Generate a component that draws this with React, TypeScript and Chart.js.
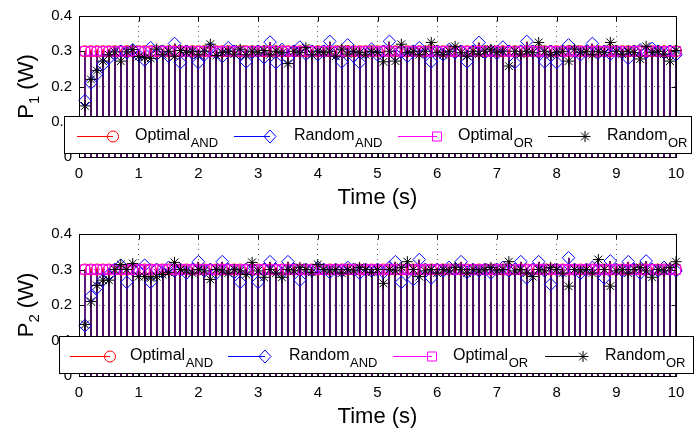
import React, { useEffect, useRef } from 'react';
import { Chart, registerables } from 'chart.js';

Chart.register(...registerables);

// ---------------- data ----------------
const TIME = [
  0.1, 0.2, 0.3, 0.4, 0.5, 0.6, 0.7, 0.8, 0.9, 1.0,
  1.1, 1.2, 1.3, 1.4, 1.5, 1.6, 1.7, 1.8, 1.9, 2.0,
  2.1, 2.2, 2.3, 2.4, 2.5, 2.6, 2.7, 2.8, 2.9, 3.0,
  3.1, 3.2, 3.3, 3.4, 3.5, 3.6, 3.7, 3.8, 3.9, 4.0,
  4.1, 4.2, 4.3, 4.4, 4.5, 4.6, 4.7, 4.8, 4.9, 5.0,
  5.1, 5.2, 5.3, 5.4, 5.5, 5.6, 5.7, 5.8, 5.9, 6.0,
  6.1, 6.2, 6.3, 6.4, 6.5, 6.6, 6.7, 6.8, 6.9, 7.0,
  7.1, 7.2, 7.3, 7.4, 7.5, 7.6, 7.7, 7.8, 7.9, 8.0,
  8.1, 8.2, 8.3, 8.4, 8.5, 8.6, 8.7, 8.8, 8.9, 9.0,
  9.1, 9.2, 9.3, 9.4, 9.5, 9.6, 9.7, 9.8, 9.9, 10.0,
];

const X_TICKS = [0, 1, 2, 3, 4, 5, 6, 7, 8, 9, 10];
const Y_TICKS = [0, 0.1, 0.2, 0.3, 0.4];

const P1_OPTIMAL_AND = [
  0.3, 0.3, 0.3, 0.3, 0.3, 0.3, 0.3, 0.3, 0.3, 0.3,
  0.3, 0.3, 0.3, 0.3, 0.3, 0.3, 0.3, 0.3, 0.3, 0.3,
  0.3, 0.3, 0.3, 0.3, 0.3, 0.3, 0.3, 0.3, 0.3, 0.3,
  0.3, 0.3, 0.3, 0.3, 0.3, 0.3, 0.3, 0.3, 0.3, 0.3,
  0.3, 0.3, 0.3, 0.3, 0.3, 0.3, 0.3, 0.3, 0.3, 0.3,
  0.3, 0.3, 0.3, 0.3, 0.3, 0.3, 0.3, 0.3, 0.3, 0.3,
  0.3, 0.3, 0.3, 0.3, 0.3, 0.3, 0.3, 0.3, 0.3, 0.3,
  0.3, 0.3, 0.3, 0.3, 0.3, 0.3, 0.3, 0.3, 0.3, 0.3,
  0.3, 0.3, 0.3, 0.3, 0.3, 0.3, 0.3, 0.3, 0.3, 0.3,
  0.3, 0.3, 0.3, 0.3, 0.3, 0.3, 0.3, 0.3, 0.3, 0.3,
];
const P1_RANDOM_AND = [
  0.160, 0.210, 0.235, 0.262, 0.280, 0.292, 0.300, 0.296, 0.304, 0.288,
  0.275, 0.310, 0.292, 0.300, 0.286, 0.322, 0.268, 0.300, 0.294, 0.268,
  0.290, 0.308, 0.296, 0.285, 0.310, 0.300, 0.292, 0.270, 0.296, 0.300,
  0.282, 0.326, 0.268, 0.305, 0.280, 0.300, 0.312, 0.292, 0.300, 0.290,
  0.300, 0.328, 0.294, 0.270, 0.318, 0.286, 0.268, 0.296, 0.306, 0.290,
  0.300, 0.328, 0.290, 0.300, 0.286, 0.300, 0.310, 0.296, 0.270, 0.300,
  0.290, 0.305, 0.296, 0.300, 0.270, 0.300, 0.325, 0.296, 0.300, 0.294,
  0.312, 0.300, 0.268, 0.300, 0.328, 0.300, 0.296, 0.270, 0.300, 0.268,
  0.300, 0.318, 0.300, 0.290, 0.300, 0.322, 0.296, 0.300, 0.292, 0.300,
  0.296, 0.280, 0.300, 0.304, 0.296, 0.308, 0.300, 0.296, 0.300, 0.290,
];
const P1_OPTIMAL_OR = [
  0.3, 0.3, 0.3, 0.3, 0.3, 0.3, 0.3, 0.3, 0.3, 0.3,
  0.3, 0.3, 0.3, 0.3, 0.3, 0.3, 0.3, 0.3, 0.3, 0.3,
  0.3, 0.3, 0.3, 0.3, 0.3, 0.3, 0.3, 0.3, 0.3, 0.3,
  0.3, 0.3, 0.3, 0.3, 0.3, 0.3, 0.3, 0.3, 0.3, 0.3,
  0.3, 0.3, 0.3, 0.3, 0.3, 0.3, 0.3, 0.3, 0.3, 0.3,
  0.3, 0.3, 0.3, 0.3, 0.3, 0.3, 0.3, 0.3, 0.3, 0.3,
  0.3, 0.3, 0.3, 0.3, 0.3, 0.3, 0.3, 0.3, 0.3, 0.3,
  0.3, 0.3, 0.3, 0.3, 0.3, 0.3, 0.3, 0.3, 0.3, 0.3,
  0.3, 0.3, 0.3, 0.3, 0.3, 0.3, 0.3, 0.3, 0.3, 0.3,
  0.3, 0.3, 0.3, 0.3, 0.3, 0.3, 0.3, 0.3, 0.3, 0.3,
];
const P1_RANDOM_OR = [
  0.145, 0.220, 0.245, 0.272, 0.290, 0.298, 0.272, 0.298, 0.305, 0.285,
  0.282, 0.280, 0.306, 0.290, 0.300, 0.286, 0.302, 0.296, 0.300, 0.290,
  0.300, 0.320, 0.288, 0.296, 0.300, 0.292, 0.306, 0.290, 0.300, 0.296,
  0.302, 0.290, 0.300, 0.296, 0.265, 0.300, 0.296, 0.310, 0.290, 0.300,
  0.296, 0.300, 0.286, 0.306, 0.292, 0.300, 0.296, 0.290, 0.300, 0.296,
  0.270, 0.300, 0.272, 0.320, 0.296, 0.300, 0.290, 0.300, 0.325, 0.296,
  0.290, 0.300, 0.314, 0.296, 0.286, 0.300, 0.292, 0.300, 0.306, 0.296,
  0.300, 0.258, 0.300, 0.292, 0.300, 0.296, 0.325, 0.300, 0.290, 0.296,
  0.300, 0.272, 0.306, 0.296, 0.300, 0.290, 0.300, 0.296, 0.325, 0.300,
  0.292, 0.300, 0.296, 0.278, 0.314, 0.296, 0.300, 0.292, 0.272, 0.302,
];

const P2_OPTIMAL_AND = [
  0.3, 0.3, 0.3, 0.3, 0.3, 0.3, 0.3, 0.3, 0.3, 0.3,
  0.3, 0.3, 0.3, 0.3, 0.3, 0.3, 0.3, 0.3, 0.3, 0.3,
  0.3, 0.3, 0.3, 0.3, 0.3, 0.3, 0.3, 0.3, 0.3, 0.3,
  0.3, 0.3, 0.3, 0.3, 0.3, 0.3, 0.3, 0.3, 0.3, 0.3,
  0.3, 0.3, 0.3, 0.3, 0.3, 0.3, 0.3, 0.3, 0.3, 0.3,
  0.3, 0.3, 0.3, 0.3, 0.3, 0.3, 0.3, 0.3, 0.3, 0.3,
  0.3, 0.3, 0.3, 0.3, 0.3, 0.3, 0.3, 0.3, 0.3, 0.3,
  0.3, 0.3, 0.3, 0.3, 0.3, 0.3, 0.3, 0.3, 0.3, 0.3,
  0.3, 0.3, 0.3, 0.3, 0.3, 0.3, 0.3, 0.3, 0.3, 0.3,
  0.3, 0.3, 0.3, 0.3, 0.3, 0.3, 0.3, 0.3, 0.3, 0.3,
];
const P2_RANDOM_AND = [
  0.142, 0.225, 0.248, 0.270, 0.285, 0.300, 0.312, 0.264, 0.300, 0.296,
  0.312, 0.264, 0.300, 0.292, 0.306, 0.296, 0.300, 0.290, 0.300, 0.322,
  0.296, 0.300, 0.290, 0.322, 0.300, 0.292, 0.264, 0.300, 0.296, 0.264,
  0.300, 0.322, 0.300, 0.290, 0.322, 0.300, 0.270, 0.300, 0.296, 0.306,
  0.300, 0.292, 0.300, 0.296, 0.306, 0.300, 0.290, 0.300, 0.296, 0.300,
  0.292, 0.306, 0.322, 0.264, 0.300, 0.272, 0.328, 0.300, 0.276, 0.300,
  0.296, 0.306, 0.300, 0.322, 0.292, 0.300, 0.296, 0.300, 0.290, 0.300,
  0.306, 0.296, 0.300, 0.322, 0.276, 0.300, 0.322, 0.296, 0.258, 0.300,
  0.296, 0.333, 0.300, 0.290, 0.300, 0.306, 0.300, 0.276, 0.324, 0.300,
  0.296, 0.322, 0.300, 0.290, 0.324, 0.300, 0.296, 0.306, 0.300, 0.296,
];
const P2_OPTIMAL_OR = [
  0.3, 0.3, 0.3, 0.3, 0.3, 0.3, 0.3, 0.3, 0.3, 0.3,
  0.3, 0.3, 0.3, 0.3, 0.3, 0.3, 0.3, 0.3, 0.3, 0.3,
  0.3, 0.3, 0.3, 0.3, 0.3, 0.3, 0.3, 0.3, 0.3, 0.3,
  0.3, 0.3, 0.3, 0.3, 0.3, 0.3, 0.3, 0.3, 0.3, 0.3,
  0.3, 0.3, 0.3, 0.3, 0.3, 0.3, 0.3, 0.3, 0.3, 0.3,
  0.3, 0.3, 0.3, 0.3, 0.3, 0.3, 0.3, 0.3, 0.3, 0.3,
  0.3, 0.3, 0.3, 0.3, 0.3, 0.3, 0.3, 0.3, 0.3, 0.3,
  0.3, 0.3, 0.3, 0.3, 0.3, 0.3, 0.3, 0.3, 0.3, 0.3,
  0.3, 0.3, 0.3, 0.3, 0.3, 0.3, 0.3, 0.3, 0.3, 0.3,
  0.3, 0.3, 0.3, 0.3, 0.3, 0.3, 0.3, 0.3, 0.3, 0.3,
];
const P2_RANDOM_OR = [
  0.145, 0.210, 0.255, 0.270, 0.270, 0.300, 0.314, 0.300, 0.317, 0.280,
  0.280, 0.276, 0.280, 0.286, 0.292, 0.320, 0.300, 0.296, 0.290, 0.300,
  0.296, 0.272, 0.300, 0.296, 0.290, 0.300, 0.296, 0.286, 0.320, 0.296,
  0.278, 0.300, 0.290, 0.278, 0.300, 0.296, 0.306, 0.300, 0.292, 0.314,
  0.300, 0.296, 0.300, 0.290, 0.300, 0.296, 0.306, 0.300, 0.292, 0.300,
  0.261, 0.300, 0.296, 0.306, 0.322, 0.300, 0.280, 0.296, 0.300, 0.290,
  0.300, 0.296, 0.306, 0.300, 0.290, 0.300, 0.296, 0.300, 0.306, 0.296,
  0.300, 0.322, 0.296, 0.300, 0.290, 0.280, 0.300, 0.296, 0.306, 0.300,
  0.290, 0.253, 0.300, 0.296, 0.300, 0.290, 0.328, 0.300, 0.253, 0.296,
  0.300, 0.290, 0.300, 0.306, 0.296, 0.278, 0.300, 0.296, 0.306, 0.322,
];

const SERIES_NAMES = ['Optimal', 'Random', 'Optimal', 'Random'];
const SERIES_SUBS = ['AND', 'AND', 'OR', 'OR'];
const X_TITLE = 'Time (s)';

// ---------------- styles ----------------
const FONT = '"Liberation Sans", Arial, Helvetica, sans-serif';
const W = 694;
const H = 214;

const SERIES_STYLE = [
  { color: '#ff0000', pointStyle: 'circle', radius: 5.5, order: 3 },
  { color: '#0000ff', pointStyle: 'rectRot', radius: 6.3, order: 2 },
  { color: '#ff00ff', pointStyle: 'rect', radius: 6.6, order: 1 },
  { color: '#000000', pointStyle: 'star', radius: 5.5, order: 0 },
];
const STEM_STYLE = [
  { color: '#62197a', width: 2, offset: 0 },
  { color: '#62197a', width: 2, offset: 0 },
  { color: '#62197a', width: 2, offset: 0 },
  { color: '#4a1060', width: 2, offset: 0 },
];

type LegendLayout = {
  left: number; right: number; top: number; bottom: number; lineY: number;
  entries: { x0: number; x1: number; tx: number }[];
};
type PlotCfg = {
  sub: string;
  series: number[][];
  areaTop: number;
  areaBottom: number;
  legend: LegendLayout;
};

const PLOTS: PlotCfg[] = [
  {
    sub: '1',
    series: [P1_OPTIMAL_AND, P1_RANDOM_AND, P1_OPTIMAL_OR, P1_RANDOM_OR],
    areaTop: 15,
    areaBottom: 157,
    legend: {
      left: 64, right: 692, top: 116, bottom: 154, lineY: 135.5,
      entries: [
        { x0: 77, x1: 113, tx: 135 },
        { x0: 234, x1: 270, tx: 294 },
        { x0: 398, x1: 437, tx: 458 },
        { x0: 548, x1: 585, tx: 607 },
      ],
    },
  },
  {
    sub: '2',
    series: [P2_OPTIMAL_AND, P2_RANDOM_AND, P2_OPTIMAL_OR, P2_RANDOM_OR],
    areaTop: 20,
    areaBottom: 162,
    legend: {
      left: 59, right: 694, top: 122, bottom: 160, lineY: 141.5,
      entries: [
        { x0: 70, x1: 110, tx: 130 },
        { x0: 228, x1: 265, tx: 289 },
        { x0: 393, x1: 432, tx: 453 },
        { x0: 545, x1: 583, tx: 605 },
      ],
    },
  },
];

function drawMarker(ctx: CanvasRenderingContext2D, kind: string, x: number, y: number, color: string) {
  ctx.save();
  ctx.strokeStyle = color;
  ctx.lineWidth = 1;
  ctx.beginPath();
  if (kind === 'circle') {
    ctx.arc(x, y, 5.5, 0, Math.PI * 2);
  } else if (kind === 'rectRot') {
    ctx.moveTo(x, y - 6.5);
    ctx.lineTo(x + 6, y);
    ctx.lineTo(x, y + 6.5);
    ctx.lineTo(x - 6, y);
    ctx.closePath();
  } else if (kind === 'rect') {
    ctx.rect(x - 4.5, y - 4.5, 9, 9);
  } else {
    const r = 5.5;
    const d = r * Math.SQRT1_2;
    ctx.moveTo(x - r, y); ctx.lineTo(x + r, y);
    ctx.moveTo(x, y - r); ctx.lineTo(x, y + r);
    ctx.moveTo(x - d, y - d); ctx.lineTo(x + d, y + d);
    ctx.moveTo(x - d, y + d); ctx.lineTo(x + d, y - d);
  }
  ctx.stroke();
  ctx.restore();
}

function makeDecor(cfg: PlotCfg) {
  return {
    id: 'matlabDecor' + cfg.sub,
    beforeDatasetsDraw(chart: any) {
      const { ctx, scales } = chart;
      const y0 = scales.y.getPixelForValue(0);
      ctx.save();
      chart.data.datasets.forEach((_ds: any, i: number) => {
        const meta = chart.getDatasetMeta(i);
        const st = STEM_STYLE[i];
        ctx.strokeStyle = st.color;
        ctx.lineWidth = st.width;
        ctx.beginPath();
        meta.data.forEach((el: any) => {
          const px = Math.round(el.x) + st.offset;
          ctx.moveTo(px, y0);
          ctx.lineTo(px, el.y);
        });
        ctx.stroke();
      });
      ctx.restore();
    },
    afterDatasetsDraw(chart: any) {
      const { ctx, chartArea: a, scales } = chart;
      const L = Math.round(a.left) + 0.5;
      const R = Math.round(a.right) + 0.5;
      const T = Math.round(a.top) + 0.5;
      const B = Math.round(a.bottom) + 0.5;
      ctx.save();
      ctx.strokeStyle = '#000';
      ctx.lineWidth = 1;
      // inward ticks
      ctx.beginPath();
      X_TICKS.forEach((v) => {
        const px = Math.round(scales.x.getPixelForValue(v)) + 0.5;
        ctx.moveTo(px, B); ctx.lineTo(px, B - 5);
        ctx.moveTo(px, T); ctx.lineTo(px, T + 5);
      });
      Y_TICKS.forEach((v) => {
        const py = Math.round(scales.y.getPixelForValue(v)) + 0.5;
        ctx.moveTo(L, py); ctx.lineTo(L + 5, py);
        ctx.moveTo(R, py); ctx.lineTo(R - 5, py);
      });
      ctx.stroke();
      // box
      ctx.strokeRect(L, T, R - L, B - T);

      // legend
      const lg = cfg.legend;
      ctx.fillStyle = '#fff';
      ctx.fillRect(lg.left, lg.top, lg.right - lg.left, lg.bottom - lg.top);
      ctx.strokeStyle = '#000';
      ctx.strokeRect(lg.left + 0.5, lg.top + 0.5, lg.right - lg.left - 1, lg.bottom - lg.top - 1);
      lg.entries.forEach((e, i) => {
        const st = SERIES_STYLE[i];
        ctx.strokeStyle = st.color;
        ctx.lineWidth = 1;
        ctx.beginPath();
        ctx.moveTo(e.x0, Math.round(lg.lineY) + 0.5);
        ctx.lineTo(e.x1, Math.round(lg.lineY) + 0.5);
        ctx.stroke();
        drawMarker(ctx, st.pointStyle, e.x1, Math.round(lg.lineY) + 0.5, st.color);
        ctx.fillStyle = '#000';
        ctx.textAlign = 'left';
        ctx.textBaseline = 'alphabetic';
        ctx.font = `16px ${FONT}`;
        ctx.fillText(SERIES_NAMES[i], e.tx, lg.lineY + 4.5);
        const w = ctx.measureText(SERIES_NAMES[i]).width;
        ctx.font = `13px ${FONT}`;
        ctx.fillText(SERIES_SUBS[i], e.tx + w + 0.5, lg.lineY + 11);
      });

      // x title
      ctx.fillStyle = '#000';
      ctx.font = `22px ${FONT}`;
      ctx.textAlign = 'center';
      ctx.textBaseline = 'alphabetic';
      ctx.fillText(X_TITLE, (a.left + a.right) / 2, a.bottom + 47);

      // y title (rotated) P_sub (W)
      ctx.translate(33, (a.top + a.bottom) / 2);
      ctx.rotate(-Math.PI / 2);
      ctx.textAlign = 'left';
      const big = `22px ${FONT}`;
      const small = `15px ${FONT}`;
      ctx.font = big;
      const wP = ctx.measureText('P').width;
      const wRest = ctx.measureText(' (W)').width;
      ctx.font = small;
      const wS = ctx.measureText(cfg.sub).width;
      let x = -(wP + wS + wRest) / 2;
      ctx.font = big;
      ctx.fillText('P', x, 0);
      x += wP;
      ctx.font = small;
      ctx.fillText(cfg.sub, x, 6);
      x += wS;
      ctx.font = big;
      ctx.fillText(' (W)', x, 0);
      ctx.restore();
    },
  };
}

function buildChart(canvas: HTMLCanvasElement, cfg: PlotCfg) {
  const datasets = cfg.series.map((vals, i) => ({
    label: SERIES_NAMES[i] + SERIES_SUBS[i],
    data: TIME.map((t, k) => ({ x: t, y: vals[k] })),
    showLine: false,
    pointStyle: SERIES_STYLE[i].pointStyle,
    pointRadius: SERIES_STYLE[i].radius,
    pointBorderWidth: 1,
    pointBorderColor: SERIES_STYLE[i].color,
    pointBackgroundColor: 'rgba(0,0,0,0)',
    borderColor: SERIES_STYLE[i].color,
    backgroundColor: 'rgba(0,0,0,0)',
    order: SERIES_STYLE[i].order,
    clip: false as any,
  }));
  const tickFont = { family: FONT, size: 15 };
  const gridOpts = { color: 'rgba(0,0,0,0.6)', lineWidth: 1, drawTicks: false };
  return new Chart(canvas, {
    type: 'scatter',
    data: { datasets: datasets as any },
    options: {
      animation: false,
      responsive: false,
      events: [],
      layout: { padding: { top: cfg.areaTop, right: 18, bottom: 0, left: 0 } },
      plugins: { legend: { display: false }, tooltip: { enabled: false } },
      scales: {
        x: {
          type: 'linear',
          min: X_TICKS[0],
          max: X_TICKS[X_TICKS.length - 1],
          ticks: { stepSize: 1, font: tickFont, color: '#000', padding: 8, maxRotation: 0 },
          grid: gridOpts,
          border: { display: false, dash: [1, 4] },
          afterFit: (s: any) => { s.height = H - cfg.areaBottom; },
        },
        y: {
          type: 'linear',
          min: Y_TICKS[0],
          max: Y_TICKS[Y_TICKS.length - 1],
          ticks: { stepSize: 0.1, font: tickFont, color: '#000', padding: 7 },
          grid: gridOpts,
          border: { display: false, dash: [1, 4] },
          afterFit: (s: any) => { s.width = 79; },
        },
      },
    } as any,
    plugins: [makeDecor(cfg)],
  });
}

export default function App() {
  const ref1 = useRef<HTMLCanvasElement>(null);
  const ref2 = useRef<HTMLCanvasElement>(null);
  useEffect(() => {
    const c1 = buildChart(ref1.current!, PLOTS[0]);
    const c2 = buildChart(ref2.current!, PLOTS[1]);
    return () => {
      c1.destroy();
      c2.destroy();
    };
  }, []);
  return (
    <div style={{ position: 'fixed', left: 0, top: 0, width: W, height: 2 * H, background: '#fff' }}>
      <canvas ref={ref1} width={W} height={H} style={{ position: 'absolute', left: 0, top: 0, width: W, height: H }} />
      <canvas ref={ref2} width={W} height={H} style={{ position: 'absolute', left: 0, top: H, width: W, height: H }} />
    </div>
  );
}
